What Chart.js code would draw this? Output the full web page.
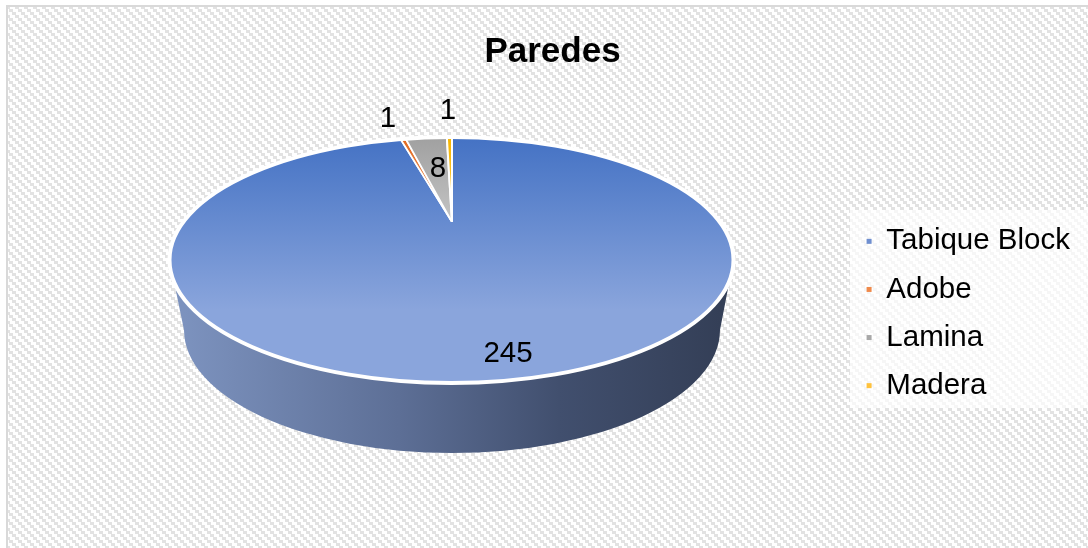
<!DOCTYPE html>
<html><head><meta charset="utf-8">
<style>html,body{margin:0;padding:0;background:#fff}canvas{display:block}</style>
<script src="https://cdn.jsdelivr.net/npm/chart.js@4"></script>
</head><body><canvas id="c" width="1088" height="548"></canvas>
<script>
const categories = ['Tabique Block','Adobe','Lamina','Madera'];
const values = [245,1,8,1];
const legendColors = ['#6f8fd0','#f08a4b','#a8a8a8','#ffc23c'];
const chartTitle = 'Paredes';

const FONT = '"Liberation Sans", Arial, sans-serif';
const top3d = {cx:451.5, cy:260, rx:282, ry:123, apexX:452, apexY:222, sy:0.405};
const wall = {cx:452, cy:330, rx:268, ry:123};
const labelPos = [[508,354],[388,119],[438,169],[448,111]];
const sliceGrads = [['#4472c4','#8aa5dc'],['#e0691f','#f4a070'],['#a0a0a0','#c4c4c4'],['#f5b400','#ffd24d']];

function hatch(ctx){
  const t=document.createElement('canvas');t.width=9;t.height=9;
  const g=t.getContext('2d');g.fillStyle='#fff';g.fillRect(0,0,9,9);g.fillStyle='#e2e2e2';
  for(let i=0;i<9;i+=3){g.fillRect(i,i,4,3);if(i+4>9)g.fillRect(0,i,i+4-9,3);}
  return ctx.createPattern(t,'repeat');
}
function ellipse(ctx,e){ctx.beginPath();ctx.ellipse(e.cx,e.cy,e.rx,e.ry,0,0,Math.PI*2);}

const scene = {
  id:'scene',
  beforeDraw(chart){
    const c=chart.ctx;c.save();
    c.fillStyle='#fff';c.fillRect(0,0,1088,548);
    c.fillStyle=hatch(c);c.fillRect(8,7,1080,541);
    c.strokeStyle='#d9d9d9';c.lineWidth=2;
    c.beginPath();c.moveTo(7,548);c.lineTo(7,6);c.lineTo(1088,6);c.stroke();
    c.fillStyle='rgba(255,255,255,0.7)';c.fillRect(850,210,238,198);
    c.restore();
  },
  beforeDatasetsDraw(chart){
    const c=chart.ctx,arcs=chart.getDatasetMeta(0).data,a0=arcs[0];
    c.save();
    const g=c.createLinearGradient(wall.cx-wall.rx,0,wall.cx+wall.rx,0);
    g.addColorStop(0,'#7c92be');g.addColorStop(0.4,'#5d6f96');g.addColorStop(0.7,'#414f6e');g.addColorStop(1,'#343f57');
    c.fillStyle=g;c.beginPath();
    c.moveTo(top3d.cx-top3d.rx,top3d.cy);
    c.lineTo(wall.cx-wall.rx,wall.cy);
    c.ellipse(wall.cx,wall.cy,wall.rx,wall.ry,0,Math.PI,0,true);
    c.lineTo(top3d.cx+top3d.rx,top3d.cy);
    c.closePath();c.fill();
    c.restore();
    c.save();
    ellipse(c,top3d);c.clip();
    c.translate(top3d.apexX,top3d.apexY);c.scale(1,top3d.sy);c.translate(-a0.x,-a0.y);
    const y0=a0.y+(137-top3d.apexY)/top3d.sy;
    const y1=a0.y+(310-top3d.apexY)/top3d.sy;
    arcs.forEach((a,i)=>{
      const gr=c.createLinearGradient(0,y0,0,i===0?y1:a0.y);
      gr.addColorStop(0,sliceGrads[i][0]);gr.addColorStop(1,sliceGrads[i][1]);
      a.options.backgroundColor=gr;
    });
  },
  afterDatasetsDraw(chart){
    const c=chart.ctx;
    c.restore();
    c.save();
    c.strokeStyle='#fff';c.lineWidth=4;ellipse(c,top3d);c.stroke();
    c.fillStyle='#000';c.font='29.5px '+FONT;c.textAlign='center';c.textBaseline='middle';
    values.forEach((v,i)=>c.fillText(String(v),labelPos[i][0],labelPos[i][1]));
    c.restore();
  }
};

new Chart(document.getElementById('c'),{
  type:'pie',
  data:{labels:categories,datasets:[{data:values,backgroundColor:legendColors,borderColor:'#fff',borderWidth:2,radius:470,clip:false}]},
  options:{
    responsive:false,animation:false,events:[],
    layout:{padding:{left:25,right:8,top:0,bottom:0}},
    plugins:{
      tooltip:{enabled:false},
      title:{display:true,text:chartTitle,color:'#000',font:{family:FONT,size:35,weight:'bold'},padding:{top:31,bottom:6}},
      legend:{position:'right',fullSize:false,labels:{
        color:'#000',font:{family:FONT,size:29.5},boxWidth:5,boxHeight:5,padding:18.6,
        generateLabels:()=>categories.map((t,i)=>({text:t,fillStyle:legendColors[i],strokeStyle:legendColors[i],lineWidth:0,index:i}))
      }}
    }
  },
  plugins:[scene]
});
</script></body></html>
